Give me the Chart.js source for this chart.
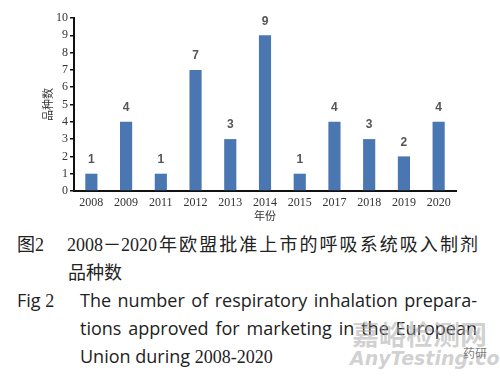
<!DOCTYPE html>
<html>
<head>
<meta charset="utf-8">
<script src="https://cdn.jsdelivr.net/npm/chart.js@4"></script>
<style>
  html, body { margin: 0; padding: 0; background: #fff; }
  body { width: 500px; height: 377px; position: relative; overflow: hidden; }
  #wrap { position: absolute; left: 0; top: 0; width: 500px; height: 222px; }
  .cap { position: absolute; color: #222; white-space: nowrap; }
  .zh { font-family: "Noto Sans CJK SC", sans-serif; font-size: 18px; }
  .en { font-family: "Open Sans", "Noto Sans", sans-serif; font-size: 18px; }
  .num { font-family: "Liberation Serif", "DejaVu Serif", serif; font-size: 18px; }
  .just { text-align: justify; text-align-last: justify; white-space: normal; }
  .wm { position: absolute; color: rgba(170,170,170,0.55); white-space: nowrap; }
</style>
</head>
<body>
<div id="wrap"><canvas id="chart"></canvas></div>

<div class="cap zh" style="left:17px; top:231px; line-height:24px;">图<span class="num">2</span></div>
<div class="cap zh just" style="left:67px; top:231px; width:411px; line-height:24px;"><span class="num">2008</span>－<span class="num">2020</span>年欧盟批准上市的呼吸系统吸入制剂</div>
<div class="cap zh" style="left:68px; top:259px; line-height:24px;">品种数</div>

<div class="cap en" style="left:17px; top:287px; line-height:26px;">Fig <span class="num">2</span></div>
<div class="cap en just" style="left:80px; top:287px; width:397px; line-height:26px;">The number of respiratory inhalation prepara-</div>
<div class="cap en just" style="left:80px; top:315px; width:397px; line-height:26px;">tions approved for marketing in the European</div>
<div class="cap en" style="left:80px; top:343px; line-height:26px;">Union during <span class="num">2008-2020</span></div>

<div class="wm" style="left:352px; top:314px; font-family:'Noto Sans CJK SC'; font-weight:bold; font-size:27px; letter-spacing:0px;">嘉峪检测网</div>
<div class="wm" style="left:350px; top:347px; font-family:'DejaVu Sans'; font-style:italic; font-weight:bold; font-size:19px;">AnyTesting.com</div>
<div class="wm" style="left:463px; top:344px; font-family:'Noto Sans CJK SC'; font-size:12px; color:rgba(90,90,90,0.8);">药研</div>

<script>
const years = ['2008', '2009', '2011', '2012', '2013', '2014', '2015', '2017', '2018', '2019', '2020'];
const counts = [1, 4, 1, 7, 3, 9, 1, 4, 3, 2, 4];
const yTicks = [0, 1, 2, 3, 4, 5, 6, 7, 8, 9, 10];

// value labels above the bars
const barLabels = {
  id: 'barLabels',
  afterDatasetsDraw(chart) {
    const ctx = chart.ctx;
    const meta = chart.getDatasetMeta(0);
    ctx.save();
    ctx.font = 'bold 12px "Liberation Sans", Arial, sans-serif';
    ctx.fillStyle = '#555';
    ctx.textAlign = 'center';
    ctx.textBaseline = 'middle';
    meta.data.forEach((bar, i) => {
      ctx.fillText(String(counts[i]), bar.x, bar.y - 14);
    });
    ctx.restore();
  }
};

window.onload = function() {
  const ctx = document.getElementById('chart').getContext('2d');
  new Chart(ctx, {
    type: 'bar',
    data: {
      labels: years,
      datasets: [{
        data: counts,
        backgroundColor: '#4a76b2',
        categoryPercentage: 1,
        barPercentage: 0.35
      }]
    },
    options: {
      responsive: true,
      maintainAspectRatio: false,
      animation: false,
      layout: { padding: { left: 41, right: 44, top: 18, bottom: 0 } },
      plugins: {
        legend: { display: false },
        tooltip: { enabled: false }
      },
      scales: {
        x: {
          grid: { display: false, drawTicks: false },
          border: { display: true, color: '#111', width: 2 },
          ticks: {
            color: '#333',
            padding: 5,
            font: { family: '"Liberation Serif", "DejaVu Serif", serif', size: 12 }
          },
          title: {
            display: true,
            text: '年份',
            color: '#333',
            padding: { top: 0, bottom: 0 },
            font: { family: '"Noto Sans CJK SC", sans-serif', size: 11 }
          },
          afterFit: s => { s.height = 31; }
        },
        y: {
          min: 0,
          max: 10,
          afterBuildTicks: s => { s.ticks = yTicks.map(v => ({ value: v })); },
          grid: {
            drawOnChartArea: false,
            drawTicks: true,
            tickLength: 4,
            color: '#111',
            lineWidth: 1.5
          },
          border: { display: true, color: '#111', width: 2 },
          ticks: {
            autoSkip: false,
            color: '#333',
            padding: 2,
            font: { family: '"Liberation Serif", "DejaVu Serif", serif', size: 12 }
          },
          title: {
            display: true,
            text: '品种数',
            color: '#333',
            padding: 0,
            font: { family: '"Noto Sans CJK SC", sans-serif', size: 11 }
          },
          afterFit: s => { s.width = 33; }
        }
      }
    },
    plugins: [barLabels]
  });
};
</script>
</body>
</html>
